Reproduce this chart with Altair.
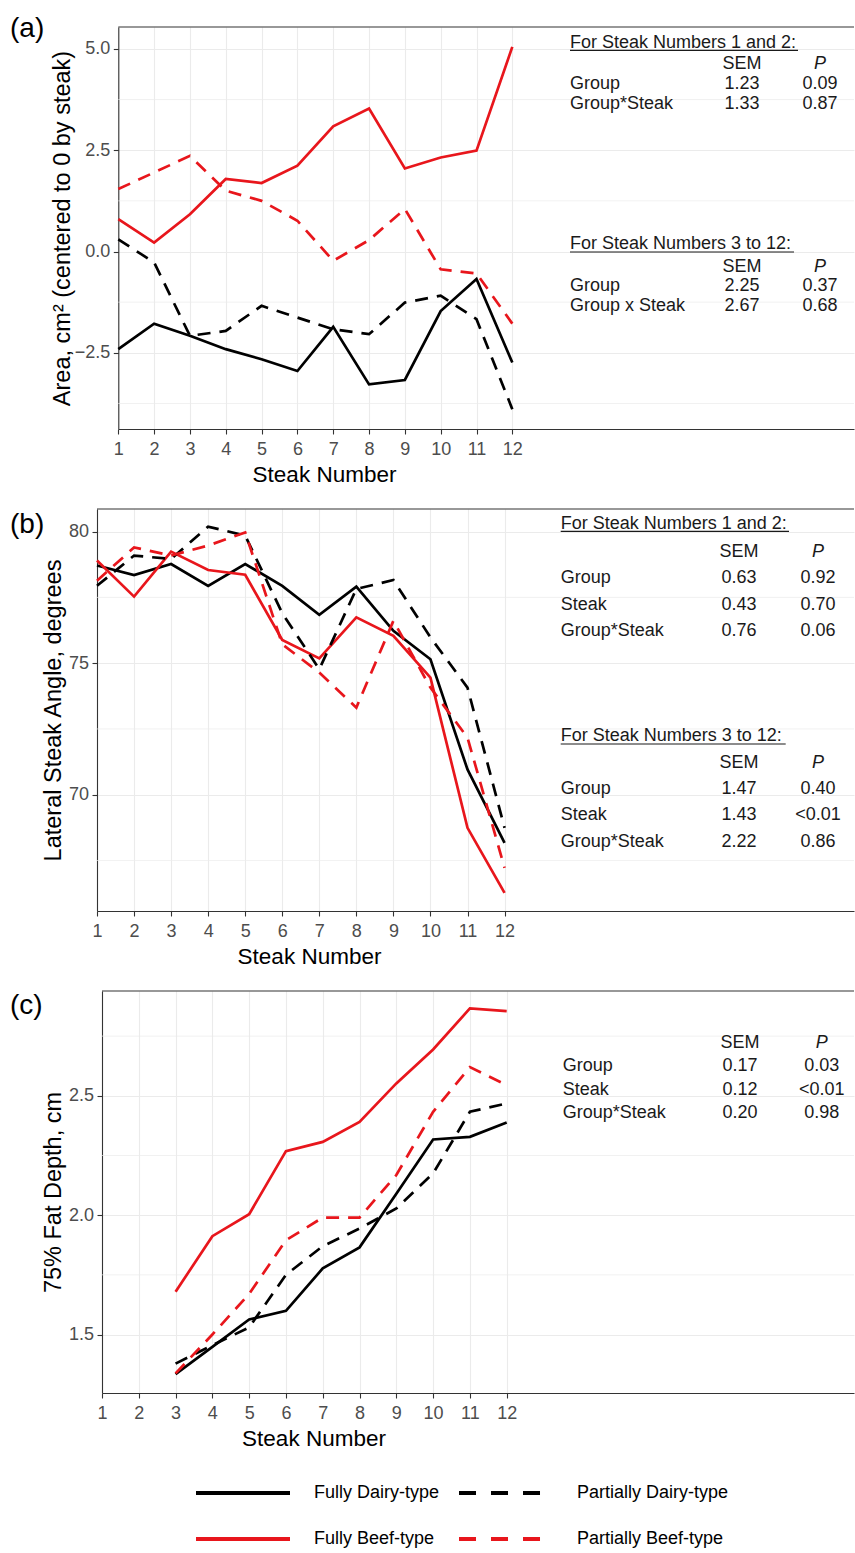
import altair as alt
import pandas as pd

# ---------------- data ----------------
steaks = list(range(1, 13))
steaks_c = list(range(3, 13))
groups = ["Fully Dairy-type", "Partially Dairy-type", "Fully Beef-type", "Partially Beef-type"]

# (a) Area, cm2 (centered to 0 by steak)
area_fully_dairy = [-2.41, -1.78, -2.08, -2.41, -2.66, -2.95, -1.86, -3.28, -3.17, -1.47, -0.68, -2.74]
area_partially_dairy = [0.30, -0.27, -2.08, -1.96, -1.34, -1.63, -1.92, -2.04, -1.26, -1.09, -1.67, -3.89]
area_fully_beef = [0.80, 0.22, 0.92, 1.79, 1.69, 2.12, 3.09, 3.53, 2.05, 2.32, 2.49, 5.05]
area_partially_beef = [1.54, 1.95, 2.36, 1.50, 1.25, 0.76, -0.23, 0.28, 1.05, -0.44, -0.54, -1.78]

# (b) Lateral steak angle, degrees
angle_fully_dairy = [78.71, 78.35, 78.77, 77.94, 78.77, 77.94, 76.84, 77.91, 76.23, 75.15, 70.96, 68.17]
angle_partially_dairy = [77.94, 79.09, 78.96, 80.19, 79.85, 76.90, 74.77, 77.82, 78.16, 75.98, 74.07, 68.74]
angle_fully_beef = [78.90, 77.53, 79.24, 78.54, 78.36, 75.88, 75.18, 76.74, 76.04, 74.45, 68.74, 66.27]
angle_partially_beef = [78.13, 79.40, 79.09, 79.47, 79.97, 75.72, 74.64, 73.31, 76.61, 74.07, 72.17, 67.22]

# (c) 75% fat depth, cm (steaks 3-12)
fat_fully_dairy = [1.334, 1.448, 1.563, 1.599, 1.777, 1.865, 2.090, 2.317, 2.328, 2.388]
fat_partially_dairy = [1.378, 1.455, 1.530, 1.750, 1.870, 1.944, 2.028, 2.175, 2.433, 2.468]
fat_fully_beef = [1.679, 1.912, 2.004, 2.268, 2.307, 2.391, 2.552, 2.694, 2.866, 2.855]
fat_partially_beef = [1.337, 1.500, 1.670, 1.895, 1.990, 1.990, 2.168, 2.433, 2.620, 2.545]

# statistics tables
a_header1 = "For Steak Numbers 1 and 2:"
a_rows1 = ["Group", "Group*Steak"]
a_sem1 = ["1.23", "1.33"]
a_p1 = ["0.09", "0.87"]
a_header2 = "For Steak Numbers 3 to 12:"
a_rows2 = ["Group", "Group x Steak"]
a_sem2 = ["2.25", "2.67"]
a_p2 = ["0.37", "0.68"]

b_header1 = "For Steak Numbers 1 and 2:"
b_rows1 = ["Group", "Steak", "Group*Steak"]
b_sem1 = ["0.63", "0.43", "0.76"]
b_p1 = ["0.92", "0.70", "0.06"]
b_header2 = "For Steak Numbers 3 to 12:"
b_rows2 = ["Group", "Steak", "Group*Steak"]
b_sem2 = ["1.47", "1.43", "2.22"]
b_p2 = ["0.40", "<0.01", "0.86"]

c_rows = ["Group", "Steak", "Group*Steak"]
c_sem = ["0.17", "0.12", "0.20"]
c_p = ["0.03", "<0.01", "0.98"]

col_sem = "SEM"
col_p = "P"
x_title = "Steak Number"
tags = ["(a)", "(b)", "(c)"]

# ---------------- styling / layout ----------------
W = 757
H = 402
FONT = "Liberation Sans"
RED = "#e8161c"
FRAME = "#333333"
GRID = "#ebebeb"
LBL = "#4d4d4d"
TXT = "#1a1a1a"
LINE_W = 2.7
DASH = [13, 9]

color_scale = alt.Scale(domain=groups, range=["black", "black", RED, RED])
dash_scale = alt.Scale(domain=groups, range=[[1, 0], [17, 15], [1, 0], [17, 15]])


def long_df(steps, series):
    rows = []
    for g, vals in zip(groups, series):
        for s, v in zip(steps, vals):
            rows.append({"steak": s, "group": g, "value": v})
    return pd.DataFrame(rows)


def txt(s, x, y, align="left", italic=False, size=18, color=TXT, baseline="middle"):
    return alt.Chart(pd.DataFrame({"t": [s]})).mark_text(
        align=align, baseline=baseline, fontSize=size, font=FONT, color=color,
        fontStyle="italic" if italic else "normal",
    ).encode(text="t:N", x=alt.value(x), y=alt.value(y))


def underline(s, x, y, w):
    return alt.Chart(pd.DataFrame({"t": [s]})).mark_rule(color=TXT, strokeWidth=1.2).encode(
        x=alt.value(x), x2=alt.value(x + w), y=alt.value(y))


def table(xl, xs, xp, colhdr_y, row_ys, rows, sems, ps, header=None, hdr_y=None, ul_y=None, ul_w=None):
    layers = []
    if header is not None:
        layers.append(txt(header, xl, hdr_y))
        layers.append(underline(header, xl, ul_y, ul_w))
    layers.append(txt(col_sem, xs, colhdr_y, align="center"))
    layers.append(txt(col_p, xp, colhdr_y, align="center", italic=True))
    for r, s, p, y in zip(rows, sems, ps, row_ys):
        layers.append(txt(r, xl, y))
        layers.append(txt(s, xs, y, align="center"))
        layers.append(txt(p, xp, y, align="center"))
    return layers


def panel(df, ydom, yvals, yfmt, minor, ytitle, ytitle_x, xoff, unit, xtitle_x, tag, tag_y,
          extra, with_legend=False):
    xmax = 1 + (W - xoff) / unit
    xs = alt.Scale(domain=[1, xmax], range=[xoff, W], nice=False, zero=False)
    ys = alt.Scale(domain=ydom, nice=False, zero=False)
    xaxis = alt.Axis(values=steaks, format="d", title=x_title, grid=True, gridColor=GRID, gridWidth=1.1,
                     domainColor=FRAME, domainWidth=1.1, tickColor=FRAME, tickWidth=1.1, tickSize=5,
                     labelFont=FONT, labelFontSize=18, labelColor=LBL, labelPadding=6.5,
                     labelFlush=False, labelOverlap=False,
                     titleFont=FONT, titleFontSize=22.5, titleFontWeight="normal", titleColor="black",
                     titleX=xtitle_x, titleY=34, titleBaseline="top")
    yaxis = alt.Axis(values=yvals, format=yfmt, title=ytitle, offset=-xoff, grid=True, gridColor=GRID,
                     gridWidth=1.1, domainColor=FRAME, domainWidth=1.1, tickColor=FRAME, tickWidth=1.1,
                     tickSize=5, labelFont=FONT, labelFontSize=18, labelColor=LBL, labelPadding=3.5,
                     labelFlush=False, labelOverlap=False,
                     titleFont=FONT, titleFontSize=23.5, titleFontWeight="normal", titleColor="black",
                     titleX=ytitle_x)
    if with_legend:
        leg = alt.Legend(orient="none", legendX=132, legendY=488, title=None, direction="horizontal",
                         columns=2, symbolType="M-4,0H4", symbolSize=552, symbolStrokeWidth=4,
                         labelFont=FONT, labelFontSize=18, labelColor="black", labelOffset=57,
                         columnPadding=11, rowPadding=23, labelLimit=500, padding=0)
    else:
        leg = None

    X = alt.X("steak:Q", scale=xs, axis=xaxis)
    Y = alt.Y("value:Q", scale=ys, axis=yaxis)
    C = alt.Color("group:N", scale=color_scale, legend=leg)

    minor_rules = alt.Chart(pd.DataFrame({"v": minor})).mark_rule(color=GRID, strokeWidth=0.7).encode(
        y=alt.Y("v:Q", scale=ys, axis=yaxis), x=alt.value(xoff), x2=alt.value(W))
    top_rule = alt.Chart(pd.DataFrame({"t": [tag]})).mark_rule(color=FRAME, strokeWidth=1.1).encode(
        x=alt.value(xoff), x2=alt.value(W), y=alt.value(0))

    solid = alt.Chart(df).transform_filter(
        alt.FieldOneOfPredicate(field="group", oneOf=[groups[0], groups[2]])
    ).mark_line(strokeWidth=LINE_W).encode(x=X, y=Y, color=C)
    dashed = alt.Chart(df).transform_filter(
        alt.FieldOneOfPredicate(field="group", oneOf=[groups[1], groups[3]])
    ).mark_line(strokeWidth=LINE_W, strokeDash=DASH).encode(x=X, y=Y, color=C)
    label = txt(tag, -87, tag_y, size=28, color="black", baseline="top")

    layers = [minor_rules, top_rule, solid, dashed] + extra + [label]
    if with_legend:
        legend_layer = alt.Chart(df).transform_filter("false").mark_line(strokeWidth=4).encode(
            x=X, y=Y, color=C,
            strokeDash=alt.StrokeDash("group:N", scale=dash_scale, legend=leg),
        )
        layers.append(legend_layer)
    return alt.layer(*layers).properties(width=W, height=H)


df_a = long_df(steaks, [area_fully_dairy, area_partially_dairy, area_fully_beef, area_partially_beef])
df_b = long_df(steaks, [angle_fully_dairy, angle_partially_dairy, angle_fully_beef, angle_partially_beef])
df_c = long_df(steaks_c, [fat_fully_dairy, fat_partially_dairy, fat_fully_beef, fat_partially_beef])

extra_a = (table(473, 645, 723, 36.7, [57.3, 76.7], a_rows1, a_sem1, a_p1,
                 header=a_header1, hdr_y=15.7, ul_y=23.3, ul_w=228)
           + table(473, 645, 723, 240, [259, 279], a_rows2, a_sem2, a_p2,
                   header=a_header2, hdr_y=217.3, ul_y=225, ul_w=224))
extra_b = (table(463.7, 642, 721, 43.4, [69.4, 95.7, 121.7], b_rows1, b_sem1, b_p1,
                 header=b_header1, hdr_y=15, ul_y=22.4, ul_w=228.3)
           + table(463.7, 642, 721, 254.4, [280, 306, 332.7], b_rows2, b_sem2, b_p2,
                   header=b_header2, hdr_y=227.4, ul_y=235, ul_w=225))
extra_c = table(465.7, 643, 724.7, 51.7, [74.7, 99, 122.3], c_rows, c_sem, c_p)

pa = panel(df_a, [-4.38, 5.54], [-2.5, 0.0, 2.5, 5.0], ".1f", [-3.75, -1.25, 1.25, 3.75],
           "Area, cm\u00b2 (centered to 0 by steak)", -44.1, 21.3, 35.82, 227, tags[0], -12.3, extra_a)
pb = panel(df_b, [65.58, 80.86], [70, 75, 80], "d", [67.5, 72.5, 77.5],
           "Lateral Steak Angle, degrees", -31.4, 0, 37.05, 212, tags[1], 2.0, extra_b)
pc = panel(df_c, [1.255, 2.939], [1.5, 2.0, 2.5], ".1f", [1.75, 2.25, 2.75],
           "75% Fat Depth, cm", -36.1, 5, 36.79, 216.5, tags[2], 0.9, extra_c, with_legend=True)

chart = alt.vconcat(pa, pb, pc, spacing=80, bounds="flush").resolve_scale(
    color="independent", strokeDash="independent"
).properties(
    padding={"left": 10, "top": 14, "right": 0, "bottom": 0}
).configure(font=FONT).configure_view(stroke=None)

chart.save("out.html", embed_options={"renderer": "svg", "actions": False})
